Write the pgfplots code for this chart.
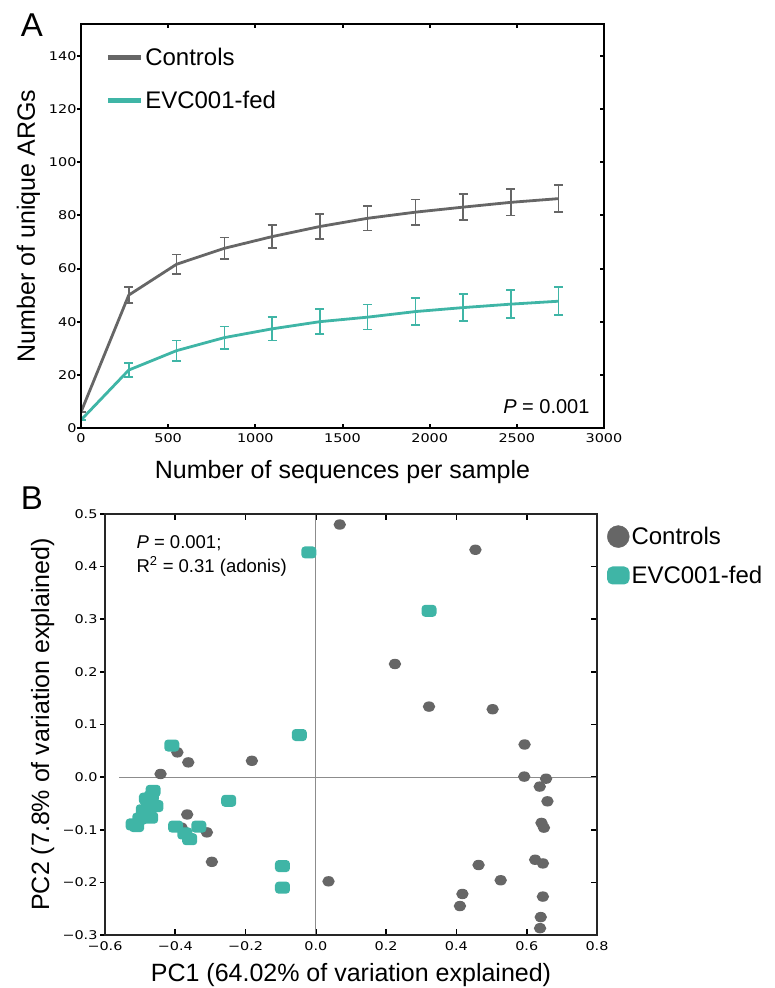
\documentclass[border=0pt]{standalone}
\usepackage{fontspec}
\setmainfont{Liberation Sans}
\newfontfamily\tickfont[FakeStretch=1.2]{DejaVu Sans}
\usepackage{pgfplots}
\usepackage{pgfplotstable}
\pgfplotsset{compat=1.18}

\definecolor{ctrl}{RGB}{102,102,102}
\definecolor{evc}{RGB}{63,181,166}
\definecolor{refline}{RGB}{140,140,140}

% filled ellipse and rounded-rectangle marks
\pgfdeclareplotmark{ellip}{%
  \pgfpathellipse{\pgfpointorigin}{\pgfpoint{1.2\pgfplotmarksize}{0pt}}{\pgfpoint{0pt}{\pgfplotmarksize}}%
  \pgfusepathqfill}
\pgfdeclareplotmark{rrect}{%
  \pgfpathmoveto{\pgfpoint{-0.65\pgfplotmarksize}{-\pgfplotmarksize}}%
  \pgfpathlineto{\pgfpoint{0.65\pgfplotmarksize}{-\pgfplotmarksize}}%
  \pgfpatharc{-90}{0}{0.6\pgfplotmarksize}%
  \pgfpathlineto{\pgfpoint{1.25\pgfplotmarksize}{0.4\pgfplotmarksize}}%
  \pgfpatharc{0}{90}{0.6\pgfplotmarksize}%
  \pgfpathlineto{\pgfpoint{-0.65\pgfplotmarksize}{\pgfplotmarksize}}%
  \pgfpatharc{90}{180}{0.6\pgfplotmarksize}%
  \pgfpathlineto{\pgfpoint{-1.25\pgfplotmarksize}{-0.4\pgfplotmarksize}}%
  \pgfpatharc{180}{270}{0.6\pgfplotmarksize}%
  \pgfpathclose
  \pgfusepathqfill}

% rarefaction: sequences, mean and sd per group
\pgfplotstableread{
n    ctrl ce  evc  ee
0    6.0  0   3.0  0
274  50.0 3.0 21.8 2.7
548  61.6 3.7 29.1 3.8
822  67.6 4.1 34.0 4.2
1096 72.0 4.3 37.3 4.4
1370 75.8 4.6 40.0 4.7
1644 78.9 4.6 41.7 4.7
1918 81.2 4.8 43.8 5.1
2192 83.1 4.9 45.3 5.1
2466 84.9 5.0 46.6 5.3
2740 86.3 5.1 47.7 5.3
}\rarefaction

\pgfplotstableread{
x y
0.068 0.480
0.454 0.432
0.225 0.215
0.322 0.134
0.503 0.129
0.594 0.062
0.593 0.001
0.655 -0.003
0.637 -0.018
0.659 -0.046
0.642 -0.087
0.649 -0.096
0.624 -0.157
0.646 -0.164
0.463 -0.167
0.526 -0.196
0.417 -0.222
0.410 -0.245
0.646 -0.227
0.640 -0.266
0.638 -0.287
-0.394 0.047
-0.363 0.028
-0.442 0.006
-0.182 0.031
-0.366 -0.071
-0.382 -0.096
-0.310 -0.105
-0.296 -0.161
0.036 -0.198
}\pcctrl

\pgfplotstableread{
x y
-0.020 0.427
0.322 0.316
-0.047 0.080
-0.410 0.060
-0.248 -0.045
-0.095 -0.169
-0.095 -0.210
-0.399 -0.094
-0.333 -0.094
-0.373 -0.107
-0.359 -0.118
-0.463 -0.026
-0.468 -0.037
-0.482 -0.041
-0.455 -0.055
-0.476 -0.050
-0.491 -0.063
-0.487 -0.072
-0.470 -0.077
-0.501 -0.079
-0.510 -0.093
-0.520 -0.090
}\pcevc

\begin{document}
\begin{tikzpicture}
\useasboundingbox (0,0) rectangle (774pt,988pt);
\node[font=\fontsize{33}{36}\selectfont, anchor=base] at (32pt,951pt) {A};
\node[font=\fontsize{33}{36}\selectfont, anchor=base] at (32pt,478pt) {B};

% ---- panel A ----
\begin{axis}[
  at={(81pt,560pt)}, anchor=south west, scale only axis,
  width=523pt, height=404pt,
  xmin=0, xmax=3000, ymin=0, ymax=152,
  xtick={0,500,1000,1500,2000,2500,3000},
  xticklabels={0,500,1000,1500,2000,2500,3000},
  ytick={0,20,40,60,80,100,120,140},
  yticklabels={0,20,40,60,80,100,120,140},
  tick align=inside, xtick pos=both, ytick pos=right, yticklabel pos=left,
  major tick length=4pt,
  tick style={line width=2pt, black},
  axis line style={line width=2.5pt},
  tick label style={font=\tickfont\fontsize{12}{14}\selectfont},
  xticklabel style={yshift=-2pt},
  yticklabel style={xshift=-1pt},
  label style={font=\fontsize{25}{30}\selectfont},
  xlabel={Number of sequences per sample},
  ylabel={Number of unique ARGs},
  xlabel style={at={(axis description cs:0.5,-0.1238)}, anchor=base},
  ylabel style={at={(axis description cs:-0.088,0.5)}, anchor=base},
  legend image code/.code={\draw[#1] (0pt,0pt) -- (33pt,0pt);},
  legend style={at={(axis description cs:0.046,0.945)}, anchor=north west,
    draw=none, fill=none, inner sep=0pt, row sep=20pt,
    font=\fontsize{24}{28}\selectfont},
  legend cell align=left,
]
\addlegendimage{ctrl, line width=5pt}
\addlegendentry{Controls}
\addlegendimage{evc, line width=5pt}
\addlegendentry{EVC001-fed}
\addplot[ctrl, line width=2.8pt, forget plot,
  error bars/.cd, y dir=both, y explicit,
  error bar style={line width=1.6pt, ctrl},
  error mark options={rotate=90, mark size=4.5pt, line width=1.6pt, ctrl}]
  table[x=n, y=ctrl, y error=ce] {\rarefaction};
\addplot[evc, line width=2.8pt, forget plot,
  error bars/.cd, y dir=both, y explicit,
  error bar style={line width=1.6pt, evc},
  error mark options={rotate=90, mark size=4.5pt, line width=1.6pt, evc}]
  table[x=n, y=evc, y error=ee] {\rarefaction};
\node[anchor=base east, font=\fontsize{20}{24}\selectfont]
  at (axis description cs:0.979,0.037) {\textit{P} = 0.001};
\end{axis}
% left ticks of panel A point outwards
\begin{axis}[
  at={(81pt,560pt)}, anchor=south west, scale only axis,
  width=523pt, height=404pt,
  xmin=0, xmax=3000, ymin=0, ymax=152,
  xtick=\empty, ytick={0,20,40,60,80,100,120,140}, yticklabels={},
  ytick pos=left, tick align=outside, major tick length=4pt,
  tick style={line width=2pt, black},
  axis line style={line width=2.5pt},
]
\end{axis}

% ---- panel B ----
\begin{axis}[
  at={(105pt,53pt)}, anchor=south west, scale only axis,
  width=492pt, height=421pt,
  xmin=-0.6, xmax=0.8, ymin=-0.3, ymax=0.5,
  xtick={-0.6,-0.4,-0.2,0,0.2,0.4,0.6,0.8},
  xticklabels={−0.6,−0.4,−0.2,0.0,0.2,0.4,0.6,0.8},
  ytick={-0.3,-0.2,-0.1,0,0.1,0.2,0.3,0.4,0.5},
  yticklabels={−0.3,−0.2,−0.1,0.0,0.1,0.2,0.3,0.4,0.5},
  tick align=inside, xtick pos=both, ytick pos=right, yticklabel pos=left,
  major tick length=6pt,
  tick style={line width=1.6pt, black},
  axis line style={line width=1.6pt, black!85},
  tick label style={font=\tickfont\fontsize{12}{14}\selectfont},
  xticklabel style={yshift=-3pt},
  yticklabel style={xshift=-4pt},
  label style={font=\fontsize{25}{30}\selectfont},
  xlabel={PC1 (64.02\% of variation explained)},
  ylabel={PC2 (7.8\% of variation explained)},
  xlabel style={at={(axis description cs:0.5,-0.1116)}, anchor=base},
  ylabel style={at={(axis description cs:-0.1138,0.5)}, anchor=base},
  legend style={at={(axis description cs:1.02,0.974)}, anchor=north west,
    draw=none, fill=none, inner sep=0pt, row sep=16pt,
    font=\fontsize{24}{28}\selectfont},
  legend cell align=left,
]
\addlegendimage{only marks, mark=*, mark size=11pt, color=ctrl}
\addlegendentry{Controls}
\addlegendimage{only marks, mark=rrect, mark size=9pt, color=evc}
\addlegendentry{EVC001-fed}
\addplot[refline, line width=1pt, forget plot] coordinates {(0,-0.3) (0,0.5)};
\addplot[refline, line width=1pt, forget plot] coordinates {(-0.56,0) (0.8,0)};
\addplot[only marks, mark=ellip, mark size=5.2pt, color=ctrl, forget plot] table {\pcctrl};
\addplot[only marks, mark=rrect, mark size=6pt, color=evc, forget plot] table {\pcevc};
\node[anchor=base west, font=\fontsize{18.5}{22}\selectfont]
  at (axis description cs:0.057,0.919) {\textit{P} = 0.001;};
\node[anchor=base west, font=\fontsize{18.5}{22}\selectfont]
  at (axis description cs:0.057,0.862) {R\textsuperscript{2} = 0.31 (adonis)};
\end{axis}
\begin{axis}[
  at={(105pt,53pt)}, anchor=south west, scale only axis,
  width=492pt, height=421pt,
  xmin=-0.6, xmax=0.8, ymin=-0.3, ymax=0.5,
  xtick=\empty, ytick={-0.3,-0.2,-0.1,0,0.1,0.2,0.3,0.4,0.5}, yticklabels={},
  ytick pos=left, tick align=outside, major tick length=5pt,
  tick style={line width=1.6pt, black},
  axis line style={line width=1.6pt, black!85},
]
\end{axis}
\end{tikzpicture}
\end{document}
